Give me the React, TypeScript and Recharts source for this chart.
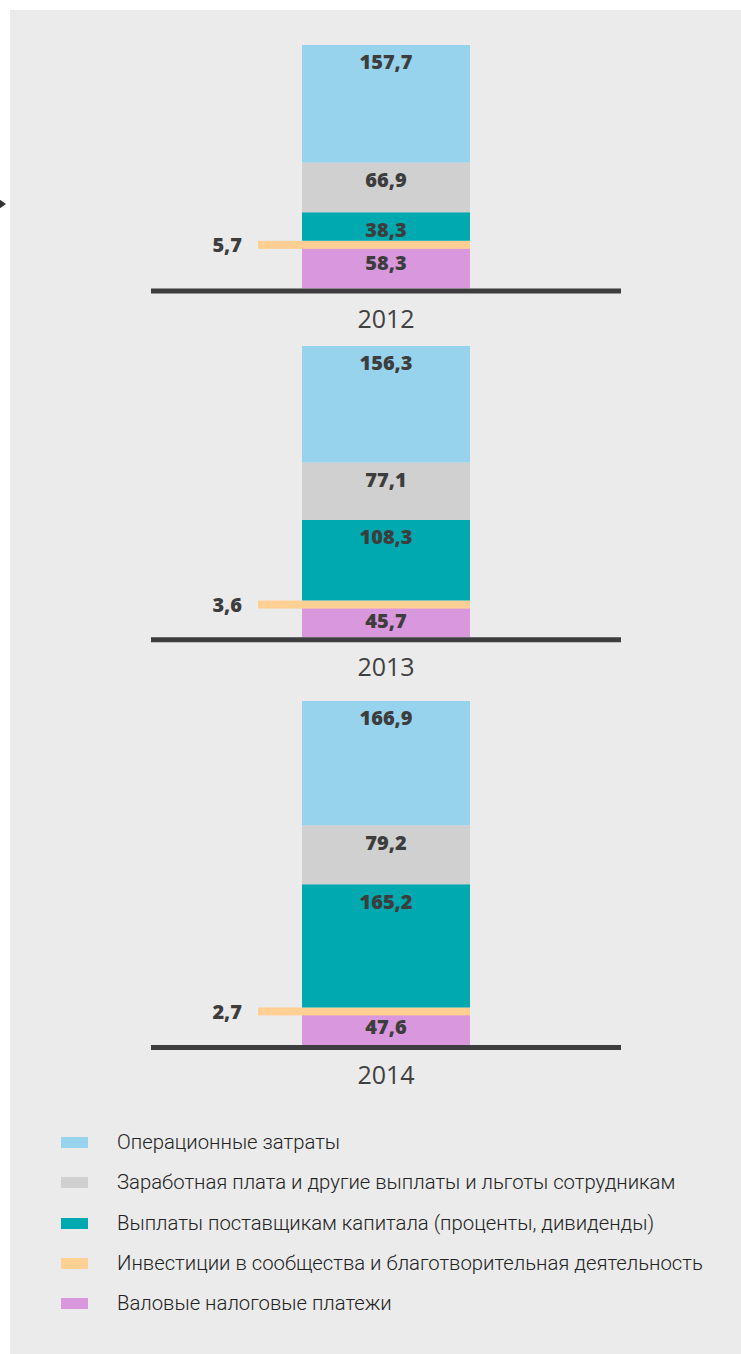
import React from 'react';
import { BarChart, Bar, XAxis, YAxis, LabelList } from 'recharts';

const years = ['2012', '2013', '2014'];
const operating = [157.7, 156.3, 166.9];
const salaries = [66.9, 77.1, 79.2];
const capital = [38.3, 108.3, 165.2];
const community = [5.7, 3.6, 2.7];
const taxes = [58.3, 45.7, 47.6];

const seriesKeys = ['taxes', 'community', 'capital', 'salaries', 'operating'];
const seriesColors: Record<string, string> = {
  operating: '#97d3ec',
  salaries: '#cfd0cf',
  capital: '#00a9b0',
  community: '#ffcf93',
  taxes: '#d997dd',
};
const legendKeys = ['operating', 'salaries', 'capital', 'community', 'taxes'];
const legendNames = [
  'Операционные затраты',
  'Заработная плата и другие выплаты и льготы сотрудникам',
  'Выплаты поставщикам капитала (проценты, дивиденды)',
  'Инвестиции в сообщества и благотворительная деятельность',
  'Валовые налоговые платежи',
];

const SCALE = 0.745;
const AXIS_H = 50;
const plotBottoms = [289, 637, 1045];
const LABEL_COLOR = '#3d3d3d';

const fmt = (v: any) => String(v).replace('.', ',');

const InsideLabel = (props: any) => {
  const { x, y, width, value } = props;
  return (
    <text
      x={Number(x) + Number(width) / 2}
      y={Number(y) + 17}
      textAnchor="middle"
      dominantBaseline="central"
      fontFamily="'Open Sans', sans-serif"
      fontWeight={800}
      fontSize={20}
      fill={LABEL_COLOR}
    >
      {fmt(value)}
    </text>
  );
};

const CommunityShape = (props: any) => {
  const { x, y, width } = props;
  return <rect x={x - 44} y={y} width={width + 44} height={8} fill={seriesColors.community} />;
};

const CommunityLabel = (props: any) => {
  const { x, y, value } = props;
  return (
    <text
      x={Number(x) - 60}
      y={Number(y) + 4}
      textAnchor="end"
      dominantBaseline="central"
      fontFamily="'Open Sans', sans-serif"
      fontWeight={800}
      fontSize={20}
      fill={LABEL_COLOR}
    >
      {fmt(value)}
    </text>
  );
};

const YearTick = (props: any) => {
  const { x, y, payload } = props;
  return (
    <text
      x={x}
      y={y + 29}
      textAnchor="middle"
      dominantBaseline="central"
      fontFamily="'Open Sans', sans-serif"
      fontSize={25}
      fill="#404040"
    >
      {payload.value}
    </text>
  );
};

const seriesValues: Record<string, number[]> = { operating, salaries, capital, community, taxes };

function YearChart({ i }: { i: number }) {
  const row: any = { year: years[i] };
  let total = 0;
  seriesKeys.forEach((k) => {
    row[k] = seriesValues[k][i];
    total += seriesValues[k][i];
  });
  const plotH = total * SCALE;
  return (
    <div style={{ position: 'absolute', left: 0, top: plotBottoms[i] - plotH }}>
      <BarChart
        width={741}
        height={plotH + AXIS_H}
        data={[row]}
        margin={{ top: 0, right: 120, bottom: 0, left: 151 }}
      >
        <XAxis
          dataKey="year"
          height={AXIS_H}
          axisLine={{ stroke: '#3d3d3d', strokeWidth: 5, transform: 'translate(0,2.5)' }}
          tickLine={false}
          tickSize={0}
          tickMargin={0}
          tick={<YearTick />}
        />
        <YAxis hide type="number" domain={[0, total]} allowDataOverflow />
        {seriesKeys.map((k) =>
          k === 'community' ? (
            <Bar key={k} dataKey={k} stackId="s" fill={seriesColors[k]} barSize={168} isAnimationActive={false} shape={<CommunityShape />}>
              <LabelList dataKey={k} content={<CommunityLabel />} />
            </Bar>
          ) : (
            <Bar key={k} dataKey={k} stackId="s" fill={seriesColors[k]} barSize={168} isAnimationActive={false}>
              <LabelList dataKey={k} content={<InsideLabel />} />
            </Bar>
          )
        )}
      </BarChart>
    </div>
  );
}

export default function App() {
  return (
    <div style={{ position: 'absolute', left: 0, top: 0, width: 741, height: 1354, background: '#ffffff', overflow: 'hidden' }}>
      <div style={{ position: 'absolute', left: 10, top: 10, width: 731, height: 1344, background: '#ebebeb' }} />
      <svg style={{ position: 'absolute', left: 0, top: 197 }} width={10} height={16}>
        <polygon points="-1,2 6,7 -1,12" fill="#333333" />
      </svg>
      {years.map((_, i) => (
        <YearChart key={i} i={i} />
      ))}
      {legendKeys.map((k, j) => (
        <div key={k} style={{ position: 'absolute', left: 0, top: 1122 + j * 40.3, height: 40, width: 741 }}>
          <div style={{ position: 'absolute', left: 61, top: 15, width: 27, height: 11, background: seriesColors[k] }} />
          <div
            style={{
              position: 'absolute',
              left: 117,
              top: 0,
              height: 40,
              lineHeight: '40px',
              fontFamily: 'Roboto, sans-serif',
              fontWeight: 300,
              fontSize: 20.3,
              color: '#222222',
              whiteSpace: 'nowrap',
            }}
          >
            {legendNames[j]}
          </div>
        </div>
      ))}
    </div>
  );
}
